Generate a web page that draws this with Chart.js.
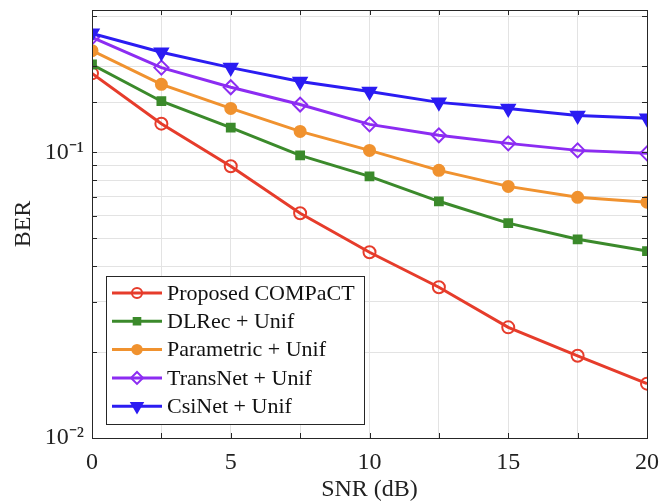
<!DOCTYPE html>
<html>
<head>
<meta charset="utf-8">
<script src="https://cdn.jsdelivr.net/npm/chart.js@4.4.1/dist/chart.umd.min.js"></script>
<style>
html,body{margin:0;padding:0;background:#fff;}
#wrap{width:670px;height:504px;position:relative;}
</style>
</head>
<body>
<div id="wrap"><canvas id="c" width="670" height="504"></canvas></div>
<script>
// ---- data ----
const snr = [0, 2.5, 5, 7.5, 10, 12.5, 15, 17.5, 20];
const proposed   = [0.189, 0.126, 0.0894, 0.0612, 0.0447, 0.0337, 0.0244, 0.0194, 0.0155];
const dlrec      = [0.203, 0.151, 0.122, 0.0976, 0.0824, 0.0674, 0.0565, 0.0496, 0.0451];
const parametric = [0.227, 0.173, 0.1425, 0.1184, 0.1016, 0.0865, 0.076, 0.0696, 0.0669];
const transnet   = [0.2525, 0.198, 0.169, 0.147, 0.1253, 0.1147, 0.1075, 0.1016, 0.0992];
const csinet     = [0.261, 0.224, 0.198, 0.177, 0.1634, 0.1496, 0.1425, 0.1347, 0.1315];
const seriesNames = ['Proposed COMPaCT', 'DLRec + Unif', 'Parametric + Unif', 'TransNet + Unif', 'CsiNet + Unif'];
const xTickLabels = ['0', '5', '10', '15', '20'];
const yTickLabels = ['10\u207B\u00B2', '10\u207B\u00B9'];

const FONT = '"Liberation Serif", "Times New Roman", serif';
const toPts = arr => arr.map((v, i) => ({x: snr[i], y: v}));

const styles = [
  {color:'#e63c2b', pointStyle:'circle',   radius:6,   fill:false, rotation:0},
  {color:'#3b8a2b', pointStyle:'rect',     radius:5.5, fill:true,  rotation:0},
  {color:'#f0922f', pointStyle:'circle',   radius:5.5, fill:true,  rotation:0},
  {color:'#8c2cf2', pointStyle:'rectRot',  radius:7,   fill:false, rotation:0},
  {color:'#2b1cf2', pointStyle:'triangle', radius:7.5, fill:true,  rotation:180}
];
const seriesData = [proposed, dlrec, parametric, transnet, csinet];

const datasets = seriesData.map((d, i) => ({
  label: seriesNames[i],
  data: toPts(d),
  borderColor: styles[i].color,
  backgroundColor: styles[i].fill ? styles[i].color : 'rgba(0,0,0,0)',
  pointBorderColor: styles[i].color,
  pointBackgroundColor: styles[i].fill ? styles[i].color : 'rgba(0,0,0,0)',
  borderWidth: 3,
  pointBorderWidth: 2,
  pointStyle: styles[i].pointStyle,
  pointRadius: styles[i].radius,
  pointRotation: styles[i].rotation,
  tension: 0,
  order: 5 - i
}));

const isPow10 = v => Math.abs(Math.log10(v) - Math.round(Math.log10(v))) < 1e-6;

const boxPlugin = {
  id: 'boxPlugin',
  afterDraw(chart) {
    const ctx = chart.ctx;
    const a = chart.chartArea;
    const xs = chart.scales.x, ys = chart.scales.y;
    ctx.save();
    ctx.strokeStyle = '#262626';
    ctx.lineWidth = 1;
    // inside tick marks
    ctx.beginPath();
    xs.ticks.forEach(t => {
      const px = Math.round(xs.getPixelForValue(t.value)) + 0.5;
      ctx.moveTo(px, a.bottom); ctx.lineTo(px, a.bottom - 5);
      ctx.moveTo(px, a.top); ctx.lineTo(px, a.top + 5);
    });
    ys.ticks.forEach(t => {
      if (t.value > ys.max) return;
      const py = Math.round(ys.getPixelForValue(t.value)) + 0.5;
      ctx.moveTo(a.left, py); ctx.lineTo(a.left + 5, py);
      ctx.moveTo(a.right, py); ctx.lineTo(a.right - 5, py);
    });
    ctx.stroke();
    ctx.strokeRect(Math.round(a.left) + 0.5, Math.round(a.top) + 0.5, Math.round(a.right - a.left), Math.round(a.bottom - a.top));

    // legend
    const lx = 106, ly = 276, lw = 258, lh = 148;
    ctx.fillStyle = '#ffffff';
    ctx.fillRect(lx, ly, lw, lh);
    ctx.strokeRect(lx + 0.5, ly + 0.5, lw, lh);
    ctx.font = '22px ' + FONT;
    ctx.textBaseline = 'middle';
    ctx.textAlign = 'left';
    chart.data.datasets.forEach((ds, i) => {
      const cy = 293 + i * 28.3;
      const st = styles[i];
      ctx.strokeStyle = st.color;
      ctx.lineWidth = 3;
      ctx.beginPath();
      ctx.moveTo(112, cy); ctx.lineTo(162, cy);
      ctx.stroke();
      ctx.fillStyle = st.fill ? st.color : 'rgba(0,0,0,0)';
      ctx.strokeStyle = st.color;
      ctx.lineWidth = 2;
      Chart.helpers.drawPoint(ctx, {pointStyle: st.pointStyle, radius: st.radius * 0.85, rotation: st.rotation, borderWidth: 2}, 137, cy);
      ctx.fillStyle = '#111111';
      ctx.fillText(ds.label, 167, cy + 1);
    });
    ctx.restore();
  }
};

new Chart(document.getElementById('c'), {
  type: 'line',
  data: { datasets },
  plugins: [boxPlugin],
  options: {
    responsive: false,
    animation: false,
    devicePixelRatio: 1,
    layout: { padding: { left: 0, right: 23, top: 0, bottom: 0 } },
    plugins: { legend: { display: false }, tooltip: { enabled: false } },
    scales: {
      x: {
        type: 'linear',
        min: 0, max: 20,
        ticks: {
          stepSize: 2.5,
          autoSkip: false,
          maxRotation: 0,
          padding: 10,
          color: '#222',
          font: { family: FONT, size: 24 },
          callback: v => (v % 5 === 0 ? xTickLabels[v / 5] : '')
        },
        grid: { color: '#e3e3e3', lineWidth: 1, drawTicks: false, tickLength: 0 },
        border: { display: true, color: '#262626', width: 1 },
        title: { display: true, text: 'SNR (dB)', color: '#222', font: { family: FONT, size: 24 }, padding: { top: 0, bottom: 0 } },
        afterFit: s => { s.height = 66; s.paddingTop = 0; }
      },
      y: {
        type: 'logarithmic',
        min: 0.01, max: 0.315,
        ticks: {
          autoSkip: false,
          padding: 8,
          color: '#222',
          font: { family: FONT, size: 24 },
          callback: v => (isPow10(v) ? (Math.round(Math.log10(v)) === -1 ? yTickLabels[1] : (Math.round(Math.log10(v)) === -2 ? yTickLabels[0] : '')) : '')
        },
        grid: { color: '#e3e3e3', lineWidth: 1, drawTicks: false, tickLength: 0 },
        border: { display: true, color: '#262626', width: 1 },
        title: { display: true, text: 'BER', color: '#222', font: { family: FONT, size: 24 }, padding: { top: 9, bottom: 0 } },
        afterFit: s => { s.width = 92; s.paddingTop = 10; s.paddingBottom = 0; }
      }
    }
  }
});
</script>
</body>
</html>
